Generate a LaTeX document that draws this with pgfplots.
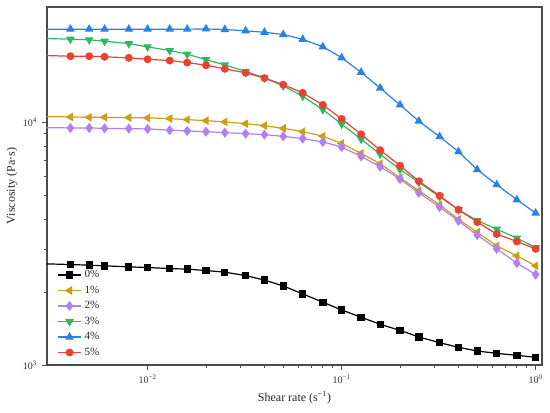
\documentclass[border=0pt]{standalone}
\usepackage{pgfplots}
\usepackage{pgfplotstable}
\pgfplotsset{compat=1.18}
\usepackage{fontspec}
\setmainfont{Liberation Serif}
\definecolor{cgold}{RGB}{205,160,20}
\definecolor{cpurp}{RGB}{176,128,245}
\definecolor{cgreen}{RGB}{45,185,100}
\definecolor{cblue}{RGB}{40,130,225}
\definecolor{cred}{RGB}{235,65,50}
\pgfplotstableread{
x      s0    s1     s2    s3     s4     s5
0.003  2614  10588  9535  22240  24300  18920
0.004  2597  10557  9509  22090  24300  18790
0.005  2582  10517  9509  21970  24300  18790
0.006  2565  10517  9472  21670  24300  18690
0.008  2541  10488  9446  21190  24300  18510
0.010  2524  10457  9419  20540  24300  18260
0.013  2500  10387  9311  19840  24300  18040
0.016  2486  10290  9240  19150  24300  17700
0.020  2454  10192  9180  18200  24350  17250
0.025  2415  10067  9094  17300  24220  16670
0.032  2339  9906   9007  16280  23920  16050
0.040  2240  9719   8921  15300  23600  15270
0.050  2120  9472   8779  14180  23100  14350
0.063  1965  9180   8589  12850  22070  13270
0.080  1816  8795   8324  11320  20560  11835
0.100  1687  8213   7936  9860   18530  10360
0.126  1574  7467   7256  8550   16130  8950
0.158  1472  6771   6579  7410   13890  7700
0.200  1390  5925   5853  6410   11835  6642
0.250  1305  5236   5136  5675   10140  5731
0.320  1236  4583   4485  4945   8750   4993
0.400  1183  3993   3936  4370   7590   4370
0.500  1142  3528   3436  3945   6395   3888
0.630  1117  3102   3016  3636   5545   3468
0.800  1096  2820   2633  3338   4806   3232
1.000  1076  2565   2361  3052   4236   3013
}\datatable
\begin{document}
\begin{tikzpicture}
\begin{axis}[
  at={(0,0)}, anchor=south west,
  scale only axis,
  width=371.25pt, height=268.5pt,
  xmode=log, ymode=log,
  xmin=0.00303, xmax=1.078,
  ymin=1000, ymax=30000,
  axis line style={draw=black!70, line width=0.9pt},
  tick align=outside,
  xtick pos=left, ytick pos=left,
  major tick length=4pt, minor tick length=2.4pt,
  every tick/.style={black!70, line width=0.6pt},
  xtick={0.01,0.1,1},
  xticklabels={10\textsuperscript{−2},10\textsuperscript{−1},10\textsuperscript{0}},
  ytick={1000,10000},
  yticklabels={10\textsuperscript{3},10\textsuperscript{4}},
  tick label style={font=\fontsize{7.5}{8}\selectfont, text=black!80},
  xlabel={Shear rate (s\textsuperscript{−1})},
  ylabel={Viscosity (Pa·s)},
  label style={font=\fontsize{9}{10}\selectfont, text=black!85},
  xlabel style={at={(axis description cs:0.5,-0.092)}, anchor=center},
  ylabel style={at={(axis description cs:-0.0707,0.5)}, anchor=center},
  legend style={draw=none, fill=none, at={(rel axis cs:0.012,0.28)}, anchor=north west,
    font=\fontsize{8.3}{9}\selectfont, row sep=0.6pt, text=black!85},
  legend cell align=left,
  legend image code/.code={\draw[#1] (0cm,0cm) -- (0.62cm,0cm); \draw[#1, only marks] plot coordinates {(0.31cm,0cm)};},
  every axis plot/.append style={line width=0.9pt},
]
\addplot[black, mark=square*, mark size=2.3pt] table[x=x, y=s0] {\datatable};
\addlegendentry{0\%}
\addplot[cgold, mark=triangle*, mark size=2.9pt, mark options={rotate=90}] table[x=x, y=s1] {\datatable};
\addlegendentry{1\%}
\addplot[cpurp, mark=diamond*, mark size=3.1pt] table[x=x, y=s2] {\datatable};
\addlegendentry{2\%}
\addplot[cgreen, mark=triangle*, mark size=2.9pt, mark options={rotate=180}] table[x=x, y=s3] {\datatable};
\addlegendentry{3\%}
\addplot[cblue, mark=triangle*, mark size=2.9pt] table[x=x, y=s4] {\datatable};
\addlegendentry{4\%}
\addplot[cred, mark=*, mark size=2.5pt] table[x=x, y=s5] {\datatable};
\addlegendentry{5\%}
\end{axis}
\pgfresetboundingbox
\useasboundingbox (-35.25pt,-35.25pt) rectangle (377.25pt,273.75pt);
\end{tikzpicture}
\end{document}
